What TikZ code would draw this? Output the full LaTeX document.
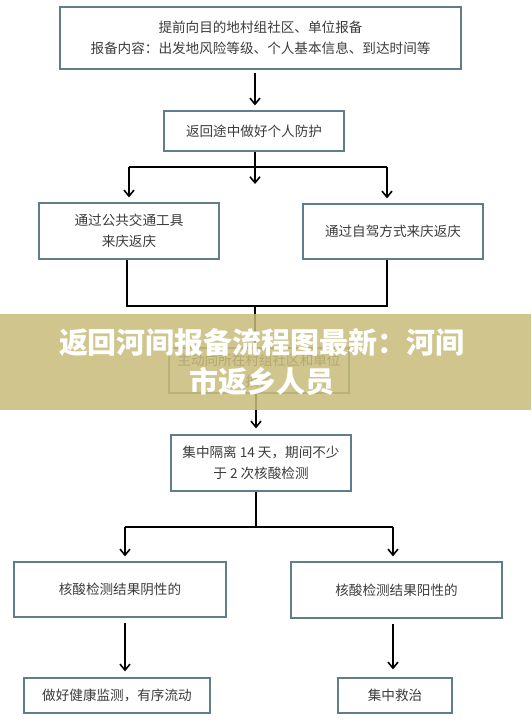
\documentclass[tikz,border=0pt]{standalone}
\usepackage{fontspec}
\newfontfamily\cjk{Noto Sans CJK SC}
\usetikzlibrary{arrows.meta,calc}
\definecolor{boxline}{RGB}{95,125,140}
\definecolor{txt}{RGB}{60,60,60}
\definecolor{banner}{RGB}{199,188,122}
\tikzset{
  box/.style={draw=boxline, line width=1.3pt, fill=white, align=center, inner sep=0pt,
    text=txt, font=\cjk\fontsize{13.6}{21}\selectfont},
  conn/.style={draw=black, line width=1.7pt},
  arr/.style={conn, -{Straight Barb[length=6pt,width=10pt,line width=1.6pt]}},
}
\begin{document}
\begin{tikzpicture}[x=1pt,y=-1pt]
\useasboundingbox (0,0) rectangle (531,724);
\fill[white] (0,0) rectangle (531,724);

% boxes
\node[box, minimum width=401, minimum height=62] (b1) at (260.5,38)
  {提前向目的地村组社区、单位报备\\报备内容：出发地风险等级、个人基本信息、到达时间等};
\node[box, minimum width=180, minimum height=40] (b2) at (254,131) {返回途中做好个人防护};
\node[box, minimum width=180, minimum height=56] (b3) at (129,231) {通过公共交通工具\\来庆返庆};
\node[box, minimum width=180, minimum height=55] (b4) at (393,231.5) {通过自驾方式来庆返庆};
\node[box, minimum width=180, minimum height=45] (bh) at (259,370.5) {主动向所在村组社区和单位\\报告};
\node[box, minimum width=180, minimum height=56] (b5) at (261,463) {集中隔离 14 天，期间不少\\于 2 次核酸检测};
\node[box, minimum width=212, minimum height=55] (b6) at (120,589.5) {核酸检测结果阴性的};
\node[box, minimum width=211, minimum height=56] (b7) at (396.5,590) {核酸检测结果阳性的};
\node[box, minimum width=186, minimum height=35] (b8) at (117,695.5) {做好健康监测，有序流动};
\node[box, minimum width=114, minimum height=35] (b9) at (395,695.5) {集中救治};

% coordinates
\coordinate (s1) at (255,167);
\coordinate (s1l) at (129,167);
\coordinate (s1r) at (387,167);
\coordinate (m1) at (255,184);
\coordinate (j1) at (255,306);
\coordinate (j1l) at (127,306);
\coordinate (j1r) at (387,306);
\coordinate (s2) at (256,527);
\coordinate (s2l) at (125,527);
\coordinate (s2r) at (393,527);

% connectors
\draw[arr, shorten <=3pt, shorten >=5pt] (b1.south -| s1) -- (b2.north -| s1);
\draw[conn] (b2.south -| s1) -- (s1);
\draw[conn] (s1l) -- (s1r);
\draw[arr] (s1) -- (m1);
\draw[arr, shorten >=5pt] (s1l) -- (b3.north -| s1l);
\draw[arr, shorten >=5pt] (s1r) -- (b4.north -| s1r);
\draw[conn] (b3.south -| j1l) -- (j1l) -- (j1r) -- (b4.south -| j1r);
\draw[conn] (j1) -- (bh.north -| j1);
\draw[arr, shorten >=6pt] (bh.south -| 256,0) -- (b5.north -| 256,0);
\draw[conn] (b5.south -| s2) -- (s2);
\draw[conn] (s2l) -- (s2r);
\draw[arr, shorten >=5pt] (s2l) -- (b6.north -| s2l);
\draw[arr, shorten >=5pt] (s2r) -- (b7.north -| s2r);
\draw[arr, shorten <=5pt, shorten >=6pt] (b6.south -| s2l) -- (b8.north -| s2l);
\draw[arr, shorten <=5pt, shorten >=8pt] (b7.south -| s2r) -- (b9.north -| s2r);

% banner
\fill[banner, opacity=0.85] (0,314) rectangle (531,410);
\node[text=white, font=\cjk\bfseries\fontsize{29}{39}\selectfont, align=center, inner sep=0pt] (title) at (262,362.5)
  {返回河间报备流程图最新：河间\\市返乡人员};
\end{tikzpicture}
\end{document}
